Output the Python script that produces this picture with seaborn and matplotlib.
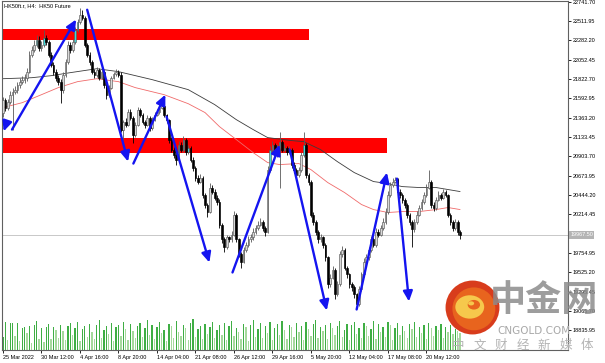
import numpy as np
import pandas as pd
import matplotlib
matplotlib.use("Agg")
import matplotlib.pyplot as plt
import matplotlib.transforms as mtrans
from matplotlib.patches import Rectangle, Circle, Ellipse
import seaborn as sns

sns.set_theme(style="white")
plt.rcParams['font.family'] = ['Liberation Sans', 'DejaVu Sans']

# ---------------- data ----------------
title = "HK50ft.r, H4:  HK50 Future"
first_open = 21420
closes = [
    21577, 21482, 21553, 21636, 21672, 21696, 21755, 21791, 21815, 21838,
    21910, 22112, 22171, 22230, 22290, 22195, 22230, 22314, 22266, 22112,
    21993, 21910, 21838, 21791, 21696, 21874, 22028, 22230, 22171, 22266,
    22409, 22504, 22587, 22551, 22230, 22112, 22028, 21910, 21874, 21933,
    21838, 21910, 21755, 21636, 21720, 21838, 21886, 21910, 21874, 21221,
    21316, 21280, 21434, 21363, 21161, 21280, 21458, 21399, 21316, 21280,
    21363, 21244, 21339, 21399, 21434, 21482, 21506, 21399, 21339, 21102,
    20983, 20924, 20864, 21042, 20983, 21102, 20959, 21007, 20864, 20769,
    20650, 20603, 20650, 20448, 20330, 20246, 20532, 20484, 20413, 20365,
    20092, 19914, 19819, 19938, 19914, 19973, 20211, 19914, 19736, 19652,
    19795, 19854, 19914, 19938, 20009, 20056, 20092, 20128, 20056, 20009,
    20745, 20983, 21042, 20924, 21007, 21078, 20983, 21007, 20959, 20983,
    20805, 20745, 20686, 20745, 20924, 21042, 20686, 20603, 20211, 20128,
    20009, 19914, 19938, 19854, 19700, 19379, 19462, 19557, 19260, 19379,
    19736, 19795, 19581, 19498, 19379, 19344, 19260, 19142, 19320, 19498,
    19652, 19700, 19795, 19914, 19854, 20009, 19973, 20056, 20128, 20246,
    20448, 20567, 20603, 20627, 20484, 20448, 20389, 20330, 20211, 20128,
    20033, 20128, 20211, 20294, 20365, 20448, 20532, 20603, 20330, 20294,
    20389, 20448, 20413, 20484, 20448, 20211, 20128, 20056, 20128, 20009,
    19968,
]
highs = [
    21610, 21600, 21585, 21680, 21710, 21740, 21790, 21830, 21860, 21880,
    21950, 22150, 22220, 22290, 22340, 22330, 22280, 22409, 22350, 22290,
    22140, 22020, 21940, 21870, 21820, 21900, 22060, 22270, 22260, 22300,
    22440, 22540, 22670, 22646, 22570, 22250, 22140, 22050, 21940, 21960,
    21950, 21940, 21930, 21770, 21750, 21860, 21910, 21940, 21930, 21900,
    21340, 21360, 21470, 21460, 21380, 21310, 21490, 21480, 21420, 21340,
    21400, 21380, 21370, 21430, 21470, 21510, 21540, 21520, 21410, 21350,
    21130, 21010, 20950, 21080, 21070, 21140, 21120, 21040, 21020, 20890,
    20790, 20680, 20690, 20670, 20470, 20350, 20580, 20560, 20510, 20440,
    20390, 20110, 19940, 19970, 19960, 20010, 20250, 20230, 19930, 19760,
    19830, 19890, 19950, 19980, 20050, 20090, 20130, 20170, 20150, 20080,
    20790, 21030, 21090, 21060, 21050, 21197, 21100, 21050, 21030, 21020,
    21000, 20830, 20770, 20780, 20960, 21197, 21060, 20710, 20620, 20240,
    20150, 20030, 19980, 19960, 19870, 19720, 19500, 19600, 19580, 19420,
    19780, 19840, 19810, 19600, 19520, 19410, 19370, 19280, 19360, 19530,
    19690, 19740, 19830, 19950, 19940, 20050, 20040, 20090, 20170, 20290,
    20490, 20600, 20640, 20662, 20650, 20510, 20470, 20410, 20350, 20230,
    20150, 20160, 20250, 20330, 20400, 20480, 20570, 20745, 20620, 20360,
    20420, 20490, 20470, 20520, 20500, 20460, 20230, 20150, 20160, 20140,
    20030,
]
lows = [
    21370, 21440, 21450, 21520, 21221, 21640, 21660, 21720, 21760, 21780,
    21800, 21890, 22080, 22140, 22200, 22160, 22150, 22200, 22230, 22080,
    21960, 21870, 21800, 21750, 21541, 21660, 21850, 22000, 22130, 22140,
    22240, 22380, 22480, 22520, 22200, 22080, 21990, 21880, 21840, 21850,
    21810, 21820, 21720, 21590, 21610, 21700, 21820, 21860, 21850, 21190,
    21102, 21250, 21260, 21330, 21066, 21130, 21260, 21370, 21290, 21240,
    21260, 21210, 21220, 21320, 21380, 21410, 21460, 21370, 21300, 21060,
    20950, 20880, 20805, 20840, 20950, 20960, 20920, 20930, 20830, 20730,
    20610, 20570, 20580, 20410, 20290, 20187, 20230, 20450, 20380, 20330,
    20050, 19870, 19771, 19800, 19880, 19890, 19950, 19880, 19700, 19581,
    19630, 19770, 19830, 19890, 19910, 19980, 20030, 20070, 20020, 19950,
    19990, 20720, 20950, 20890, 20900, 20532, 20950, 20960, 20920, 20930,
    20770, 20710, 20650, 20660, 20720, 20900, 20650, 20560, 20180, 20090,
    19970, 19870, 19880, 19810, 19660, 19340, 19350, 19440, 19201, 19240,
    19360, 19710, 19550, 19460, 19340, 19300, 19220, 19094, 19120, 19300,
    19470, 19620, 19670, 19770, 19820, 19830, 19940, 19950, 20030, 20100,
    20220, 20420, 20540, 20580, 20450, 20410, 20350, 20290, 20170, 20090,
    19819, 20000, 20100, 20190, 20270, 20340, 20420, 20510, 20290, 20250,
    20260, 20370, 20380, 20390, 20420, 20180, 20090, 20010, 20030, 19970,
    19914,
]
volumes = [
    13, 28, 10, 27, 27, 14, 27, 9, 22, 23,
    17, 24, 7, 25, 29, 11, 22, 8, 23, 26,
    11, 23, 20, 12, 25, 19, 10, 24, 27, 15,
    22, 28, 9, 21, 24, 13, 26, 18, 11, 25,
    30, 12, 20, 24, 16, 27, 9, 23, 25, 14,
    28, 21, 10, 26, 19, 12, 24, 27, 13, 22,
    30, 15, 25, 11, 23, 28, 17, 20, 9, 26,
    24, 12, 29, 18, 14, 25, 22, 10, 27, 31,
    13, 21, 24, 11, 26, 16, 23, 28, 12, 20,
    25, 15, 27, 10, 24, 29, 14, 22, 18, 11,
    26, 23, 9, 25, 30, 13, 21, 27, 12, 24,
    17, 28, 10, 22, 26, 15, 29, 20, 11, 25,
    23, 13, 27, 18, 24, 10, 28, 21, 14, 26,
    30, 12, 23, 19, 25, 11, 27, 22, 15, 24,
    29, 13, 20, 26, 10, 25, 28, 16, 22, 12,
    27, 24, 14, 21, 29, 11, 26, 18, 23, 13,
    28, 25, 10, 22, 27, 15, 24, 19, 12, 26,
    21, 28, 13, 23, 17, 25, 11, 27, 22, 14,
    24, 20, 26, 12, 23, 18, 25, 16, 21, 19,
    17,
]

# moving averages read at sample bars
ma_slow_bar = [0, 12, 20, 28, 39, 48, 62, 77, 88, 97, 104, 110, 120, 125, 132, 139, 146, 154, 160, 166, 173, 180, 190]
ma_slow_val = [21826, 21838, 21862, 21898, 21945, 21910, 21815, 21696, 21518, 21339, 21221, 21126, 21090, 21078,
               20983, 20840, 20710, 20603, 20579, 20543, 20532, 20532, 20484]
ma_fast_bar = [0, 8, 16, 23, 31, 39, 48, 55, 67, 77, 84, 90, 97, 104, 110, 115, 123, 128, 135, 142, 149, 154, 160,
               166, 173, 180, 185, 190]
ma_fast_val = [21482, 21541, 21636, 21720, 21791, 21826, 21791, 21720, 21636, 21529, 21423, 21256, 21102, 20947,
               20829, 20805, 20817, 20745, 20591, 20472, 20330, 20270, 20235, 20246, 20246, 20270, 20294, 20270]

# supply / resistance zones (price band, last bar)
zone_low = [22286, 20939]
zone_high = [22420, 21122]
zone_end_bar = [127, 159.6]

# trend arrows (bar, price) -> (bar, price)
arrow_bar0 = [1.5, 3.75, 35.0, 54.2, 68.0, 95.4, 119.2, 147.0, 163.75]
arrow_p0 = [21300, 21221, 22646, 20817, 21375, 19522, 20983, 19082, 20638]
arrow_bar1 = [0.3, 30.4, 52.0, 67.5, 85.8, 115.0, 134.6, 159.6, 168.75]
arrow_p1 = [21200, 22530, 20840, 21636, 19640, 21042, 19070, 20710, 19177]

date_labels = ["25 Mar 2022", "30 Mar 12:00", "4 Apr 16:00", "8 Apr 20:00", "14 Apr 04:00",
               "21 Apr 08:00", "26 Apr 12:00", "29 Apr 16:00", "5 May 20:00", "12 May 04:00",
               "17 May 08:00", "20 May 12:00"]
bars_per_label = 16
price_top_tick = 22741.70
price_step = 229.75
n_price_ticks = 18
last_price = 19967.50

# ---------------- figure ----------------
W, H = 605, 363
fig = plt.figure(figsize=(W / 100, H / 100), dpi=100)
fig.patch.set_facecolor("white")
pos = [2 / W, 13 / H, 566 / W, 349 / H]

axv = fig.add_axes(pos, zorder=0)
ax = fig.add_axes(pos, sharex=axv, zorder=1)
ax.patch.set_alpha(0)

XL = (-0.4, 234.85)
YL = (18600, 22750)

idx = np.arange(len(closes))
c = np.array(closes, dtype=float)
o = np.array([first_open] + closes[:-1], dtype=float)
h = np.array(highs, dtype=float)
l = np.array(lows, dtype=float)
up = c >= o

# volumes (behind)
v = np.array(volumes, dtype=float)
vcol = ["#3fae44" if (i == 0 or v[i] >= v[i - 1]) else "#a6d99d" for i in range(len(v))]
axv.bar(idx, v, width=0.55, color=vcol, linewidth=0)
axv.set_ylim(0, 350)
axv.set_xlim(*XL)
axv.axis("off")

# zones
for lo_, hi_, e_ in zip(zone_low, zone_high, zone_end_bar):
    ax.add_patch(Rectangle((XL[0] - 2, lo_), e_ - XL[0] + 2, hi_ - lo_,
                           facecolor="#ff0000", edgecolor="none", zorder=1))

# current price line
ax.axhline(last_price, color="#c8c8c8", lw=0.7, zorder=0.5)

# moving averages
sns.lineplot(x=ma_slow_bar, y=ma_slow_val, ax=ax, color="#3c3c3c", lw=0.6, zorder=2)
sns.lineplot(x=ma_fast_bar, y=ma_fast_val, ax=ax, color="#f06a6a", lw=0.6, zorder=2)

# candles
ax.vlines(idx[up], l[up], h[up], color="#5a5a5a", lw=0.6, zorder=3)
ax.vlines(idx[~up], l[~up], h[~up], color="#000000", lw=0.6, zorder=3)


def in_zone(i, a, b):
    lo_b, hi_b = min(a, b), max(a, b)
    for lo_, hi_, e_ in zip(zone_low, zone_high, zone_end_bar):
        if i <= e_ and hi_b >= lo_ and lo_b <= hi_:
            return True
    return False


bull_fc = ["#3fd8d8" if in_zone(i, o[i], c[i]) else "#d8d8d8" for i in idx[up]]
ax.bar(idx[up], np.maximum(c[up] - o[up], 8), bottom=o[up], width=0.7,
       color=bull_fc, edgecolor="#5a5a5a", linewidth=0.45, zorder=4)
ax.bar(idx[~up], np.maximum(o[~up] - c[~up], 8), bottom=c[~up], width=0.7,
       color="#000000", edgecolor="#000000", linewidth=0.45, zorder=4)

# arrows
for x0, y0, x1, y1 in zip(arrow_bar0, arrow_p0, arrow_bar1, arrow_p1):
    ax.annotate("", xy=(x1, y1), xytext=(x0, y0),
                arrowprops=dict(arrowstyle="-|>,head_length=0.6,head_width=0.28",
                                color="#1414f0", lw=1.7, mutation_scale=10,
                                shrinkA=0, shrinkB=0),
                zorder=6)

ax.set_xlim(*XL)
ax.set_ylim(*YL)

# axes styling
for s in ax.spines.values():
    s.set_color("#606060")
    s.set_linewidth(0.8)
ax.yaxis.tick_right()
pticks = [price_top_tick - k * price_step for k in range(n_price_ticks)]
pticks = [p for p in pticks if abs(p - last_price) > price_step / 2]
ax.set_yticks(pticks)
ax.set_yticklabels([f"{p:.2f}" for p in pticks])
ax.set_xticks(np.arange(len(date_labels)) * bars_per_label)
ax.set_xticklabels(date_labels, ha="left")
ax.tick_params(axis="y", which="both", right=True, left=False, direction="out",
               length=2.5, width=0.6, pad=1, labelsize=4, colors="#000000")
ax.tick_params(axis="x", which="both", bottom=True, direction="out",
               length=2.5, width=0.6, pad=1, labelsize=4, colors="#000000")
ax.set_xlabel("")
ax.set_ylabel("")
ax.grid(False)

# current price box
tr = mtrans.blended_transform_factory(ax.transAxes, ax.transData)
ax.text(1.004, last_price, f"{last_price:.2f}", transform=tr, ha="left", va="center",
        fontsize=4, color="white", zorder=7, clip_on=False,
        bbox=dict(boxstyle="square,pad=0.2", fc="#b4b4b4", ec="none"))

# title
ax.text(0.004, 0.993, title, transform=ax.transAxes, ha="left", va="top", fontsize=4,
        color="#000000", zorder=7)

# watermark logo
axl = fig.add_axes([445 / W, 1 - 335 / H, 55 / W, 55 / H], zorder=5)
axl.set_xlim(-1, 1)
axl.set_ylim(-1, 1)
axl.set_aspect("equal")
axl.axis("off")
axl.add_patch(Circle((0, 0), 0.98, fc="#d83c1c", ec="none"))
axl.add_patch(Circle((0.05, -0.05), 0.78, fc="#e8641e", ec="none"))
axl.add_patch(Ellipse((-0.1, 0.02), 1.05, 0.85, fc="#f6c84c", ec="none"))
axl.add_patch(Ellipse((0.05, 0.1), 0.45, 0.35, fc="#e8641e", ec="none"))
axl.add_patch(Ellipse((-0.05, 0.15), 0.22, 0.15, fc="#f6c84c", ec="none"))

cjk = ["Noto Sans CJK SC", "DejaVu Sans"]
fig.text(544 / W, 1 - 300 / H, "中金网", fontsize=26, color="#8c8c8c", ha="center",
         va="center", family=cjk, fontweight="bold", alpha=0.85, zorder=6)
fig.text(534 / W, 1 - 331 / H, "CNGOLD.COM", fontsize=7.5, color="#a8a8a8", ha="center",
         va="center", family=["DejaVu Sans"], zorder=6)
for k, ch in enumerate("中文财经新媒体"):
    fig.text((458 + k * 21.5) / W, 1 - 345 / H, ch, fontsize=9, color="#b4b4b4",
             ha="center", va="center", family=cjk, zorder=6)

fig.savefig("out.png", dpi=100, facecolor="white")
